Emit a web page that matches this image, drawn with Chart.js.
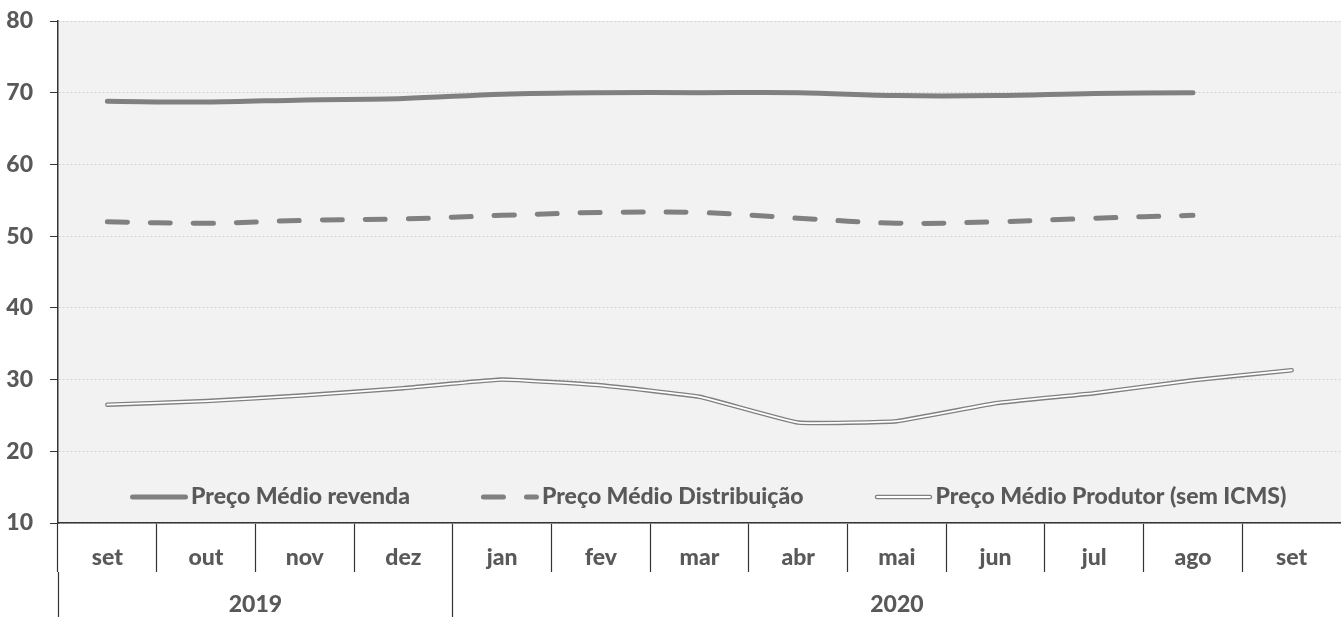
<!DOCTYPE html>
<html>
<head>
<meta charset="utf-8">
<script src="https://cdn.jsdelivr.net/npm/chart.js@4.4.1/dist/chart.umd.min.js"></script>
<style>
    html, body { margin: 0; padding: 0; background: #fff; }
    #wrap { width: 1341px; height: 617px; }
</style>
</head>
<body>
<div id="wrap"><canvas id="precos"></canvas></div>
<script>
// Dados
const months = ['set', 'out', 'nov', 'dez', 'jan', 'fev', 'mar', 'abr', 'mai', 'jun', 'jul', 'ago', 'set'];
const years = ['2019', '2020'];
const monthsPerYear = [4, 9];
const seriesNames = ['Preço Médio revenda', 'Preço Médio Distribuição', 'Preço Médio Produtor (sem ICMS)'];
const revenda = [68.8, 68.7, 69.0, 69.2, 69.8, 70.0, 70.0, 70.0, 69.6, 69.6, 69.9, 70.0, null];
const distribuicao = [52.0, 51.8, 52.2, 52.4, 52.9, 53.3, 53.3, 52.5, 51.8, 52.0, 52.5, 52.9, null];
const produtor = [26.5, 27.0, 27.8, 28.8, 30.0, 29.2, 27.6, 24.0, 24.2, 26.7, 28.1, 29.9, 31.3];
const yTicks = [10, 20, 30, 40, 50, 60, 70, 80];

const textGray = '#595959';
const lineGray = '#808080';
const axisDark = '#333333';
const FONT = 'Lato';
const FONT_SIZE = 23;
const FONT_WEIGHT = '900';

// limites e centros de cada ano no eixo secundário (0..13)
const yearBounds = [0];
monthsPerYear.forEach(n => yearBounds.push(yearBounds[yearBounds.length - 1] + n));
const yearCenters = years.map((_, i) => (yearBounds[i] + yearBounds[i + 1]) / 2);

// estilos das amostras da legenda (uma lista de traços por série)
const legendStyles = [
    [{ color: lineGray, width: 5, dash: [] }],
    [{ color: lineGray, width: 5, dash: [20, 23] }],
    [{ color: lineGray, width: 4.5, dash: [] }, { color: '#ffffff', width: 1.8, dash: [] }]
];

const plotBg = {
    id: 'plotBg',
    beforeDraw(chart) {
        const { ctx, chartArea: a } = chart;
        ctx.save();
        ctx.fillStyle = '#f2f2f2';
        ctx.fillRect(a.left, a.top, a.right - a.left, a.bottom - a.top);
        ctx.restore();
    }
};

// legenda desenhada dentro da área do gráfico, como no original
const insideLegend = {
    id: 'insideLegend',
    afterDatasetsDraw(chart) {
        const ctx = chart.ctx;
        const y = chart.chartArea.bottom - 26;
        let x = chart.chartArea.left + 72;
        ctx.save();
        ctx.font = FONT_WEIGHT + ' ' + FONT_SIZE + 'px ' + FONT;
        ctx.textBaseline = 'middle';
        ctx.lineCap = 'round';
        legendStyles.forEach((strokes, i) => {
            strokes.forEach(s => {
                ctx.beginPath();
                ctx.setLineDash(s.dash);
                ctx.lineWidth = s.width;
                ctx.strokeStyle = s.color;
                ctx.moveTo(x + 2.5, y);
                ctx.lineTo(x + 55.5, y);
                ctx.stroke();
            });
            ctx.setLineDash([]);
            ctx.fillStyle = textGray;
            ctx.fillText(seriesNames[i], x + 61, y);
            x += 61 + ctx.measureText(seriesNames[i]).width + 71;
        });
        ctx.restore();
    }
};

Chart.defaults.font.family = FONT;
Chart.defaults.font.weight = FONT_WEIGHT;
Chart.defaults.font.size = FONT_SIZE;
Chart.defaults.color = textGray;

const common = { pointRadius: 0, pointHoverRadius: 0, borderCapStyle: 'round', borderJoinStyle: 'round', fill: false };

new Chart(document.getElementById('precos').getContext('2d'), {
    type: 'line',
    data: {
        labels: months,
        datasets: [
            { ...common, label: seriesNames[0], data: revenda, borderColor: lineGray, borderWidth: 5, tension: 0.35, order: 1 },
            { ...common, label: seriesNames[1], data: distribuicao, borderColor: lineGray, borderWidth: 5, borderDash: [20, 23], tension: 0.35, order: 1 },
            { ...common, label: seriesNames[2], data: produtor, borderColor: lineGray, borderWidth: 4.5, tension: 0.1, order: 2 },
            // traço claro interno: linha dupla da série do produtor
            { ...common, label: seriesNames[2] + ' ', data: produtor, borderColor: '#ffffff', borderWidth: 1.8, tension: 0.1, order: 0 }
        ]
    },
    options: {
        responsive: true,
        maintainAspectRatio: false,
        animation: false,
        layout: { padding: { top: 21, right: 0, left: 0, bottom: 0 } },
        plugins: {
            legend: { display: false },
            tooltip: { enabled: false }
        },
        scales: {
            x: {
                type: 'category',
                position: 'bottom',
                weight: 0,
                offset: true,
                grid: {
                    offset: true,
                    drawOnChartArea: false,
                    tickLength: 49,
                    tickWidth: 1.2,
                    tickColor: ctx => ctx.tick ? axisDark : 'transparent'
                },
                border: { color: axisDark, width: 1.5 },
                ticks: { autoSkip: false, maxRotation: 0, padding: -28 },
                afterFit: s => { s.height = 49; }
            },
            x2: {
                type: 'linear',
                position: 'bottom',
                weight: 1,
                min: 0,
                max: months.length,
                afterBuildTicks: s => {
                    s.ticks = [...yearBounds, ...yearCenters].sort((a, b) => a - b).map(v => ({ value: v }));
                },
                grid: {
                    drawOnChartArea: false,
                    tickLength: 45,
                    tickWidth: 1.2,
                    tickColor: ctx => (ctx.tick && yearBounds.includes(ctx.tick.value) && ctx.tick.value < months.length) ? axisDark : 'transparent'
                },
                border: { display: false },
                ticks: {
                    autoSkip: false,
                    maxRotation: 0,
                    padding: -26,
                    callback: v => {
                        const i = yearCenters.indexOf(v);
                        return i >= 0 ? years[i] : '';
                    }
                },
                afterFit: s => { s.height = 45; }
            },
            y: {
                min: yTicks[0],
                max: yTicks[yTicks.length - 1],
                afterBuildTicks: s => { s.ticks = yTicks.map(v => ({ value: v })); },
                grid: {
                    color: '#d4d4d4',
                    lineWidth: 1,
                    tickLength: 8,
                    tickColor: axisDark,
                    tickBorderDash: []
                },
                border: { color: axisDark, width: 1.5, dash: [2, 2] },
                ticks: { padding: 17 },
                afterFit: s => { s.width = 58; s.paddingTop = 0; s.paddingBottom = 0; }
            }
        }
    },
    plugins: [plotBg, insideLegend]
});
</script>
</body>
</html>
